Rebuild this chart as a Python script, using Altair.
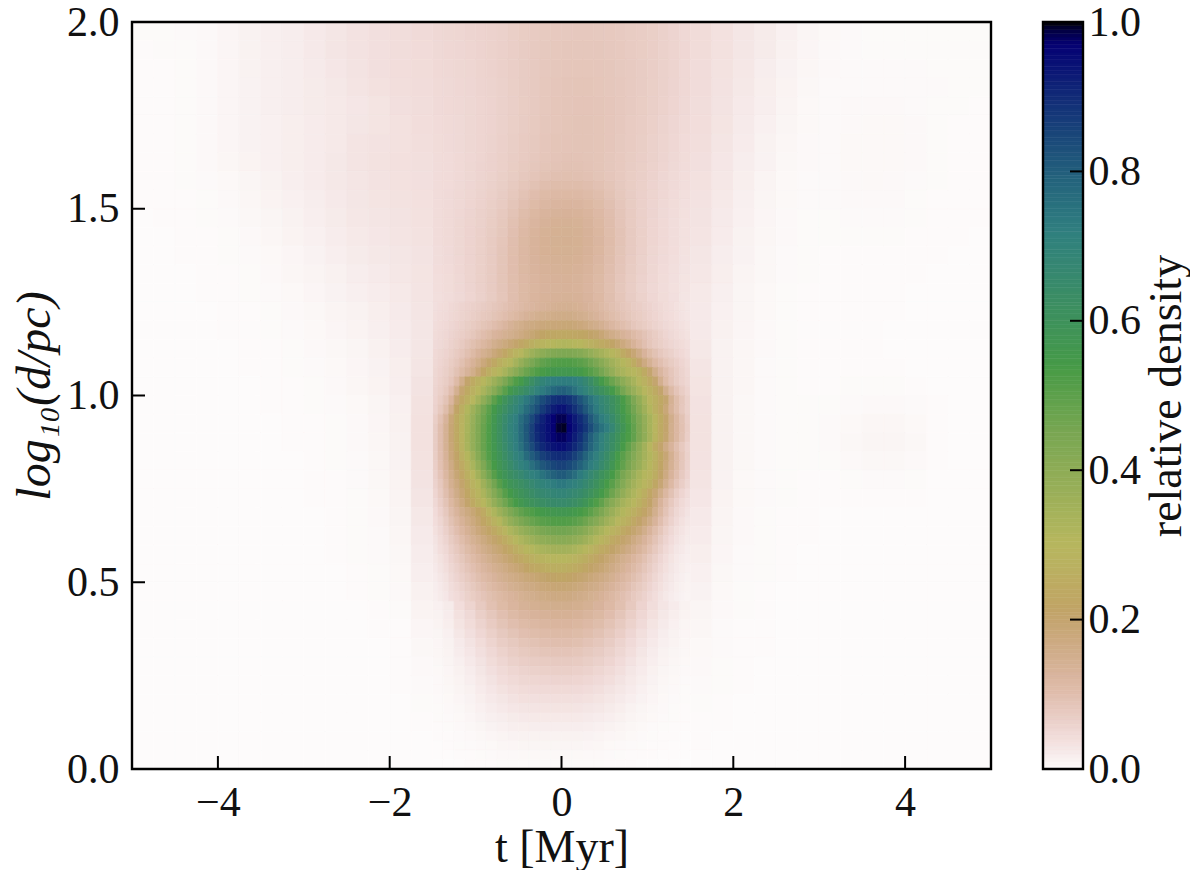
import altair as alt
import numpy as np
import pandas as pd

alt.data_transformers.disable_max_rows()

# ---- values, in thousandths of the relative density ----
# columns used by the top, upper and lower blocks: t from -1.5 to 1.5 in 24 columns
mid_t_edges = [-1.5 + 0.125 * i for i in range(25)]

# top block: log d from 2.0 to 1.65 in 7 rows
top_d_edges = [2.0 - 0.05 * i for i in range(8)]
top = [
[50,52,54,56,58,60,63,67,71,74,77,78,79,80,80,79,78,76,73,70,67,62,56,50],
[49,51,53,55,58,61,64,68,72,76,79,81,82,83,83,82,80,78,75,71,68,63,57,51],
[48,50,52,54,57,60,64,68,72,76,80,83,84,85,85,84,82,79,76,72,68,63,57,50],
[47,49,51,53,56,59,63,67,72,76,81,84,86,87,87,85,83,80,76,72,67,62,56,50],
[46,48,50,52,55,58,62,66,71,76,81,85,86,88,88,86,84,80,76,71,66,61,55,49],
[45,47,49,52,55,58,62,67,72,77,82,85,87,89,89,87,84,80,75,70,65,59,53,47],
[44,46,49,52,55,59,64,69,74,79,84,87,88,89,89,87,84,79,74,69,63,57,51,45],
]

# upper block: log d from 1.65 to 1.25 in 16 rows
upper_d_edges = [1.65 - 0.025 * i for i in range(17)]
upper = [
[43,45,48,51,55,60,65,70,75,80,85,88,90,90,89,87,83,78,73,68,62,56,50,44],
[43,45,48,52,56,60,65,71,77,82,87,90,92,92,90,87,83,78,72,67,61,55,49,43],
[43,45,48,52,56,61,67,73,80,86,92,96,97,96,94,89,84,78,71,66,60,53,47,41],
[43,45,49,53,57,63,69,77,85,93,100,104,105,104,100,94,87,79,71,65,58,52,46,40],
[43,46,50,54,59,65,72,81,91,102,110,114,115,114,109,101,91,81,72,64,57,51,45,39],
[43,46,50,55,60,67,75,86,98,110,119,124,125,124,118,108,96,84,73,64,56,50,44,38],
[43,47,51,56,62,69,78,90,105,118,127,132,133,131,125,114,100,86,74,64,56,49,43,37],
[43,47,52,57,63,71,81,95,110,124,133,138,139,137,130,118,103,88,75,64,55,48,42,36],
[43,47,52,58,64,73,83,98,114,128,137,141,142,140,133,121,105,90,76,65,55,48,42,36],
[43,47,52,58,65,74,85,100,116,130,138,142,143,141,134,122,106,90,76,65,55,48,42,36],
[42,46,52,58,65,75,86,101,117,130,138,141,142,140,133,121,105,89,76,64,54,47,41,35],
[42,46,51,58,65,75,87,102,117,129,136,139,140,138,131,119,103,88,75,63,53,46,40,34],
[41,45,51,57,65,75,87,102,116,127,133,136,137,135,128,116,100,86,73,62,52,45,39,33],
[40,44,50,57,65,75,87,101,114,124,130,133,134,132,125,113,98,84,71,60,51,44,38,32],
[40,44,50,56,64,74,86,100,113,123,129,132,133,131,124,112,97,83,70,59,50,43,37,31],
[39,43,49,55,63,73,85,100,113,125,131,134,136,134,127,115,99,85,72,61,51,44,38,30],
]

# lower block: log d from 0.45 to 0.0 in 18 rows
lower_d_edges = [0.45 - 0.025 * i for i in range(19)]
lower = [
[15,22,41,57,76,95,111,125,136,144,150,152,152,148,140,129,114,97,78,58,42,30,21,13],
[13,20,36,49,66,83,98,112,122,130,135,138,138,134,126,116,102,86,68,51,37,26,18,11],
[11,18,32,44,59,74,89,100,110,117,122,125,125,121,114,104,91,77,61,46,32,23,15,9],
[9,15,27,38,51,65,79,89,98,104,109,112,112,108,101,92,81,68,53,39,28,19,13,8],
[8,13,23,33,44,57,70,79,87,93,98,100,100,97,90,82,72,59,46,34,24,16,11,7],
[7,11,20,28,38,50,61,70,77,82,86,88,88,85,79,72,63,52,40,29,20,13,9,6],
[6,10,16,24,33,44,54,62,68,72,75,76,76,74,69,63,55,45,34,25,17,11,7,5],
[5,8,14,20,29,38,47,54,59,63,65,66,66,64,60,54,47,39,29,21,14,9,6,4],
[4,7,11,17,25,33,41,47,52,54,55,56,56,55,51,46,40,33,25,18,12,7,5,3],
[4,6,10,14,21,28,35,40,44,46,47,47,47,46,43,39,33,27,21,15,10,6,4,2],
[3,5,8,12,18,24,29,34,37,38,39,39,39,38,36,32,27,23,17,12,8,5,3,2],
[2,4,6,10,15,20,24,28,30,31,32,32,32,31,29,26,22,18,13,9,6,4,2,1],
[2,3,5,8,12,16,19,22,24,25,25,25,25,25,23,20,17,14,10,7,5,3,2,1],
[1,2,4,6,9,12,15,17,18,19,19,19,19,19,17,15,13,10,7,5,3,2,1,1],
[1,1,3,4,6,8,10,12,13,13,13,13,13,13,12,10,8,7,5,3,2,1,1,0],
[0,1,2,3,4,5,7,8,9,9,9,9,9,9,8,7,5,4,3,2,1,1,0,0],
[0,0,1,1,2,3,4,4,5,5,5,5,5,5,4,4,3,2,1,1,1,0,0,0],
[0,0,0,1,1,1,2,2,2,2,2,2,2,2,2,2,1,1,1,0,0,0,0,0],
]

# core block: t from -1.5 to 1.5 in 48 columns, log d from 1.25 to 0.45 in 32 rows
core_t_edges = [-1.5 + 0.0625 * i for i in range(49)]
core_d_edges = [1.25 - 0.025 * i for i in range(33)]
core = [
[38,41,44,48,52,56,60,64,68,72,77,82, 88,94,100,106,112,118,124,128,132,136,140,143, 144,143,141,138,133,128,121,113,105,97,90,84, 78,72,68,63,58,53,48,44,40,36,32,29],
[40,43,46,50,54,59,63,68,73,78,83,89, 95,102,110,118,126,134,140,146,151,155,158,160, 161,160,157,152,146,139,131,122,113,105,97,90, 83,77,71,66,60,55,50,45,41,37,33,30],
[42,45,48,53,58,63,69,75,81,87,94,102, 112,124,136,146,155,163,170,175,179,182,184,185, 186,186,183,178,171,162,153,143,132,120,110,101, 92,84,77,71,65,59,54,49,44,40,36,32],
[44,47,51,56,62,68,75,83,92,102,113,127, 135,143,150,160,170,180,192,203,217,226,232,234, 236,235,231,226,219,211,202,188,172,158,146,134, 124,112,100,90,80,71,62,55,49,44,39,35],
[46,49,54,60,67,76,86,97,108,120,135,150, 163,176,190,205,225,245,262,280,290,299,308,314, 318,314,306,298,285,270,258,245,232,215,195,175, 155,135,115,98,85,75,67,60,54,49,44,39],
[48,52,58,65,74,84,96,112,130,145,160,180, 200,225,255,285,305,335,365,385,403,418,428,434, 437,436,430,420,405,385,365,345,325,303,280,245, 215,190,160,130,108,92,80,70,62,54,48,42],
[50,55,62,71,82,96,115,135,155,178,205,235, 265,290,310,345,380,415,445,470,490,505,515,520, 522,520,513,503,488,468,443,415,385,355,330,310, 285,250,205,170,140,115,98,85,73,64,55,47],
[52,58,66,77,92,112,132,155,185,220,255,285, 310,340,375,410,445,475,500,520,535,548,558,563, 565,563,557,547,530,510,485,455,420,385,350,335, 315,302,278,245,200,155,122,100,84,70,59,50],
[54,61,70,84,110,155,205,245,270,298,330,365, 400,440,480,520,545,585,625,660,690,712,722,726, 728,726,718,700,670,635,590,545,510,475,440,405, 370,340,305,275,245,200,148,110,88,72,60,52],
[56,65,78,100,145,198,240,270,300,335,375,415, 460,505,555,585,615,645,675,705,730,755,778,795, 798,782,755,725,700,670,640,610,580,545,500,455, 410,375,340,305,275,245,205,152,112,88,70,57],
[58,70,90,125,185,230,265,300,345,395,445,500, 550,595,635,670,700,735,770,805,838,865,888,900, 900,885,860,825,790,750,715,680,650,615,580,535, 490,440,390,340,295,265,235,200,140,105,82,62],
[60,78,105,150,215,260,315,360,405,455,500,548, 588,625,660,690,725,765,800,835,868,900,925,942, 942,918,890,855,815,775,730,690,660,625,585,545, 505,460,410,360,315,265,230,185,135,105,80,62],
[68,92,130,185,245,280,330,375,425,470,515,565, 610,650,690,720,765,800,845,885,915,945,970,983, 983,958,930,900,865,815,770,725,695,650,605,565, 525,480,435,385,340,295,250,205,155,120,92,68],
[72,100,140,190,240,285,335,382,430,478,525,570, 614,658,700,727,772,816,861,906,925,948,970,992, 994,968,940,910,880,838,793,756,725,680,625,580, 535,490,440,390,340,295,245,205,150,120,95,70],
[72,100,140,190,240,285,340,385,430,480,525,570, 612,655,695,725,770,810,860,900,922,945,965,978, 978,955,925,893,850,800,755,715,680,640,600,560, 530,490,440,395,345,290,245,200,150,120,92,68],
[72,100,140,185,235,280,335,385,430,480,525,565, 605,645,685,718,755,800,840,880,903,925,940,950, 948,930,905,875,835,790,745,705,670,630,590,540, 495,450,400,350,300,250,205,165,130,100,78,60],
[70,98,135,178,215,265,310,360,415,465,515,555, 590,630,665,700,725,770,805,835,860,880,892,900, 898,885,860,830,790,750,715,680,640,595,545,505, 465,425,385,345,315,275,232,190,145,110,85,62],
[68,95,128,165,205,245,285,335,385,435,490,540, 575,610,645,680,705,725,760,790,815,835,850,860, 858,845,825,795,760,725,695,655,620,575,530,490, 450,410,375,335,305,265,222,180,140,108,82,60],
[64,88,120,155,190,225,265,300,350,405,460,510, 560,590,620,645,665,690,710,725,750,775,795,808, 808,790,765,730,700,670,640,605,575,540,495,450, 415,375,340,310,290,255,210,170,130,100,76,58],
[60,80,110,145,175,205,245,280,310,360,410,460, 510,555,585,605,625,645,665,685,700,712,725,738, 738,722,708,690,665,640,610,575,540,505,465,425, 385,350,320,295,270,230,190,150,115,88,68,52],
[55,74,100,130,160,190,225,260,290,330,375,420, 465,510,548,575,595,615,635,655,665,675,685,690, 690,680,665,650,630,605,575,545,510,470,430,390, 355,325,295,260,225,190,155,120,92,70,55,43],
[50,68,90,118,145,175,205,240,270,300,340,385, 425,465,505,540,565,585,600,615,630,640,648,650, 650,642,630,610,585,555,525,490,450,415,380,345, 320,300,270,240,210,170,130,100,78,60,47,38],
[45,60,80,105,128,152,172,190,215,245,285,325, 365,400,435,465,490,510,525,540,550,558,565,568, 568,562,552,540,522,500,470,440,405,370,340,315, 290,265,240,215,190,150,118,90,68,52,42,33],
[41,54,72,93,113,135,155,175,195,220,250,280, 310,350,385,415,440,460,480,495,505,512,518,520, 520,515,505,490,470,445,420,390,360,335,305,280, 260,235,210,185,160,130,100,78,60,46,36,29],
[37,49,64,82,100,120,138,158,178,195,215,240, 265,290,325,350,375,395,415,430,445,455,458,462, 462,455,445,430,410,385,360,335,310,285,265,240, 220,200,180,155,130,105,85,65,50,39,31,25],
[33,44,56,73,88,105,122,140,155,172,190,205, 225,250,275,305,325,345,365,380,392,402,408,412, 412,406,395,380,360,340,315,290,270,245,225,205, 190,170,150,130,110,90,72,56,43,34,27,22],
[30,40,50,65,78,93,108,123,138,153,168,182, 195,215,235,255,275,298,313,325,335,343,348,350, 350,345,335,320,305,285,265,245,228,210,195,180, 163,148,130,113,95,78,62,48,37,29,24,19],
[27,35,45,58,70,83,96,110,123,136,150,163, 175,188,200,218,235,252,265,278,287,294,298,300, 300,295,285,272,258,240,225,210,195,180,165,150, 138,125,110,95,80,66,53,41,32,25,20,17],
[24,31,40,52,62,74,86,98,110,122,134,145, 155,167,178,188,198,215,228,240,250,256,259,260, 260,256,248,238,225,212,200,190,177,163,150,137, 124,112,98,85,72,59,47,37,29,23,18,15],
[21,27,35,47,56,66,77,88,99,110,120,130, 140,150,158,167,175,182,188,195,202,210,216,220, 220,215,208,200,192,184,175,166,156,145,133,122, 110,99,87,75,64,52,42,33,26,20,16,13],
[19,24,31,42,50,59,69,79,89,98,108,117, 126,135,143,150,157,163,169,175,180,185,188,190, 190,187,182,176,170,163,156,148,139,130,119,109, 98,87,77,67,56,46,37,30,23,18,14,11],
[17,22,28,38,45,53,62,71,80,88,97,105, 113,121,128,135,141,147,152,157,162,166,169,170, 170,168,164,159,153,147,141,134,125,117,107,98, 88,78,69,60,50,41,33,26,20,16,12,10],
]

# side blocks: 14 columns each, log d from 2.0 to 0.0 in 40 rows
left_t_edges = [-5 + 0.25 * i for i in range(15)]
right_t_edges = [1.5 + 0.25 * i for i in range(15)]
side_d_edges = [2.0 - 0.05 * i for i in range(41)]
left_side = [
[2,2,3,4,8,13,16,19,24,29,34,38,42,46],
[1,2,2,4,8,13,16,19,24,30,34,38,42,45],
[1,1,2,4,8,13,16,19,23,28,33,38,41,44],
[1,1,2,4,8,12,16,19,22,26,31,36,40,43],
[1,1,2,4,8,12,16,19,22,25,28,32,38,42],
[1,1,2,4,8,12,15,18,21,25,29,32,36,41],
[1,1,2,4,8,12,15,18,21,25,31,34,36,40],
[1,1,2,4,7,11,15,18,21,26,31,35,37,39],
[1,1,2,3,5,9,13,17,21,26,30,34,36,38],
[1,1,1,2,4,7,11,15,19,24,29,32,35,37],
[0,1,1,2,3,6,9,13,17,22,27,30,33,36],
[0,0,1,1,2,4,7,11,15,20,25,28,31,35],
[0,0,1,1,2,3,5,8,12,17,22,26,29,33],
[0,0,0,1,1,2,4,7,10,14,19,23,27,32],
[0,0,0,1,1,2,3,5,8,12,16,20,25,31],
[0,0,0,0,1,1,2,4,6,10,13,18,23,30],
[0,0,0,0,1,1,2,3,5,8,11,16,21,29],
[0,0,0,0,0,1,1,2,4,6,9,14,20,29],
[0,0,0,0,0,1,1,2,3,5,8,12,18,30],
[0,0,0,0,0,0,1,1,2,4,7,11,17,33],
[0,0,0,0,0,0,1,1,2,3,5,9,15,35],
[0,0,0,0,0,0,0,1,1,2,4,8,14,36],
[0,0,0,0,0,0,0,1,1,2,4,7,13,36],
[0,0,0,0,0,0,0,0,1,2,3,6,12,35],
[0,0,0,0,0,0,0,0,1,1,3,6,11,33],
[0,0,0,0,0,0,0,0,1,1,2,5,10,30],
[0,0,0,0,0,0,0,0,0,1,2,4,9,26],
[0,0,0,0,0,0,0,0,0,1,2,3,7,23],
[0,0,0,0,0,0,0,0,0,1,2,3,6,20],
[0,0,0,0,0,0,0,0,0,0,1,2,5,17],
[0,0,0,0,0,0,0,0,0,0,1,2,4,14],
[0,0,0,0,0,0,0,0,0,0,0,1,2,11],
[0,0,0,0,0,0,0,0,0,0,0,1,1,8],
[0,0,0,0,0,0,0,0,0,0,0,0,1,6],
[0,0,0,0,0,0,0,0,0,0,0,0,1,4],
[0,0,0,0,0,0,0,0,0,0,0,0,1,3],
[0,0,0,0,0,0,0,0,0,0,0,0,0,2],
[0,0,0,0,0,0,0,0,0,0,0,0,0,1],
[0,0,0,0,0,0,0,0,0,0,0,0,0,0],
[0,0,0,0,0,0,0,0,0,0,0,0,0,0],
]
right_side = [
[44,36,29,22,15,9,5,3,2,2,2,2,2,2],
[44,36,29,22,14,8,4,3,2,2,2,2,2,2],
[43,35,27,19,12,7,4,3,3,3,3,2,2,2],
[43,34,26,18,11,6,3,3,3,3,3,3,2,2],
[42,33,24,17,10,5,3,4,4,4,3,2,2,1],
[41,32,23,15,9,5,3,4,5,5,4,2,1,1],
[40,30,21,13,7,4,3,5,5,5,4,2,1,1],
[38,28,19,12,6,4,3,5,5,5,4,2,1,1],
[36,27,18,10,5,3,3,4,5,4,3,2,1,1],
[34,25,16,9,5,3,3,4,4,4,2,1,1,1],
[33,23,15,8,4,2,2,3,3,3,2,1,1,1],
[31,21,13,7,4,2,2,2,2,2,1,1,1,0],
[29,19,12,6,3,2,1,1,1,1,1,1,0,0],
[27,18,10,6,3,2,1,1,1,1,1,0,0,0],
[25,16,9,5,2,1,1,1,1,1,0,0,0,0],
[24,15,9,5,2,1,1,1,1,1,0,0,0,0],
[24,14,8,4,2,1,1,1,1,0,0,0,0,0],
[26,13,7,4,2,1,1,1,1,0,0,0,0,0],
[30,13,7,3,2,1,1,1,1,1,0,0,0,0],
[32,13,7,3,2,1,1,2,2,2,1,0,0,0],
[34,13,6,3,2,2,2,3,4,4,3,1,0,0],
[35,13,6,3,2,2,3,5,7,7,5,1,0,0],
[35,13,6,3,2,2,3,6,9,9,6,1,0,0],
[34,13,6,3,2,2,2,4,6,6,4,1,0,0],
[31,12,5,3,2,1,1,2,3,3,2,0,0,0],
[28,11,5,3,2,1,1,1,1,1,1,0,0,0],
[24,10,4,2,1,1,0,0,0,0,0,0,0,0],
[21,9,4,2,1,1,0,0,0,0,0,0,0,0],
[18,8,3,2,1,0,0,0,0,0,0,0,0,0],
[15,6,3,2,1,0,0,0,0,0,0,0,0,0],
[12,5,2,1,0,0,0,0,0,0,0,0,0,0],
[9,4,2,1,0,0,0,0,0,0,0,0,0,0],
[7,3,1,1,0,0,0,0,0,0,0,0,0,0],
[5,3,1,1,0,0,0,0,0,0,0,0,0,0],
[4,2,1,0,0,0,0,0,0,0,0,0,0,0],
[3,2,1,0,0,0,0,0,0,0,0,0,0,0],
[2,1,0,0,0,0,0,0,0,0,0,0,0,0],
[1,1,0,0,0,0,0,0,0,0,0,0,0,0],
[1,0,0,0,0,0,0,0,0,0,0,0,0,0],
[0,0,0,0,0,0,0,0,0,0,0,0,0,0],
]

t_ticks = [-4, -2, 0, 2, 4]
d_ticks = [0.0, 0.5, 1.0, 1.5, 2.0]
cbar_ticks = [0.0, 0.2, 0.4, 0.6, 0.8, 1.0]
cbar_inner_ticks = [0.2, 0.4, 0.6, 0.8]

# ---- gist_earth colour table, reversed for the scale ----
RED = [(0, 0), (.2824, .1882), (.4588, .2714), (.549, .4719), (.698, .7176), (.7882, .7553), (1, .9922)]
GREEN = [(0, 0), (.0275, 0), (.1098, .1893), (.1647, .3035), (.2078, .3841), (.2824, .502), (.5216, .6397),
         (.698, .7171), (.7882, .6392), (.8157, .6549), (.8667, .6991), (.898, .743), (.9412, .8275),
         (.9647, .8816), (1, .9843)]
BLUE = [(0, 0), (.0039, .1684), (.0078, .2212), (.0275, .4329), (.0314, .4549), (.2824, .5004), (.4667, .2748),
        (.5451, .3205), (.7843, .3961), (.8941, .6651), (1, .9843)]


def chan(table, x):
    xs, ys = zip(*table)
    return np.interp(x, xs, ys)


color_stops = [i / 100 for i in range(101)]
color_range = []
for v in color_stops:
    x = 1 - v
    color_range.append("#%02x%02x%02x" % tuple(int(round(255 * chan(c, x))) for c in (RED, GREEN, BLUE)))
color_scale = alt.Scale(domain=color_stops, range=color_range, interpolate="rgb", clamp=True)


def cells(grid, t_edges, d_edges):
    rows = []
    for r, row in enumerate(grid):
        for c, val in enumerate(row):
            rows.append({"t0": t_edges[c], "t1": t_edges[c + 1], "d0": d_edges[r + 1], "d1": d_edges[r],
                         "v": val / 1000})
    return rows


heat = pd.DataFrame(cells(top, mid_t_edges, top_d_edges)
                    + cells(upper, mid_t_edges, upper_d_edges)
                    + cells(lower, mid_t_edges, lower_d_edges)
                    + cells(core, core_t_edges, core_d_edges)
                    + cells(left_side, left_t_edges, side_d_edges)
                    + cells(right_side, right_t_edges, side_d_edges))

FONT = "Liberation Serif"
W, H = 859, 747
CW = 40
TICK = 13

x_scale = alt.Scale(domain=[-5, 5], nice=False)
y_scale = alt.Scale(domain=[0, 2], nice=False)

rects = alt.Chart(heat).mark_rect(strokeWidth=0.6).encode(
    x=alt.X("t0:Q", scale=x_scale,
            axis=alt.Axis(values=t_ticks, format="d", title="t [Myr]", grid=False, domain=False, tickSize=0,
                          labelPadding=13, titlePadding=2)),
    x2="t1:Q",
    y=alt.Y("d0:Q", scale=y_scale,
            axis=alt.Axis(values=d_ticks, format=".1f", title="log₁₀(d/pc)", titleFontStyle="italic", titleFontSize=48,
                          grid=False, domain=False, tickSize=0, labelPadding=13, titlePadding=7)),
    y2="d1:Q",
    fill=alt.Fill("v:Q", scale=color_scale, legend=None),
    stroke=alt.Stroke("v:Q", scale=color_scale, legend=None),
)
x_tick_marks = alt.Chart(pd.DataFrame({"t": t_ticks})).mark_rule(color="black", strokeWidth=2).encode(
    x=alt.X("t:Q", scale=x_scale), y=alt.value(H), y2=alt.value(H - TICK))
y_tick_marks = alt.Chart(pd.DataFrame({"d": d_ticks[1:-1]})).mark_rule(color="black", strokeWidth=2).encode(
    y=alt.Y("d:Q", scale=y_scale), x=alt.value(0), x2=alt.value(TICK))
frame = alt.Chart(pd.DataFrame({"a": [0]})).mark_rect(fill=None, stroke="black", strokeWidth=2.4).encode(
    x=alt.value(0), x2=alt.value(W), y=alt.value(0), y2=alt.value(H))
main = alt.layer(rects, x_tick_marks, y_tick_marks, frame).properties(width=W, height=H)

cbar_levels = [i / 200 for i in range(200)]
cbar_df = pd.DataFrame({"lo": cbar_levels, "hi": [v + 0.005 for v in cbar_levels], "v": [v + 0.0025 for v in cbar_levels]})
cbar_y = alt.Scale(domain=[0, 1], nice=False)
cbar_rects = alt.Chart(cbar_df).mark_rect(strokeWidth=0.6).encode(
    x=alt.value(0), x2=alt.value(CW),
    y=alt.Y("lo:Q", scale=cbar_y,
            axis=alt.Axis(orient="right", values=cbar_ticks, format=".1f", title="relative density", titleAngle=270,
                          titleFontSize=46, grid=False, domain=False, tickSize=0, labelPadding=5, titlePadding=50)),
    y2="hi:Q",
    fill=alt.Fill("v:Q", scale=color_scale, legend=None),
    stroke=alt.Stroke("v:Q", scale=color_scale, legend=None),
)
cbar_tick_marks = alt.Chart(pd.DataFrame({"v": cbar_inner_ticks})).mark_rule(color="black", strokeWidth=2).encode(
    y=alt.Y("v:Q", scale=cbar_y), x=alt.value(CW), x2=alt.value(CW - TICK))
cbar_frame = alt.Chart(pd.DataFrame({"a": [0]})).mark_rect(fill=None, stroke="black", strokeWidth=2.4).encode(
    x=alt.value(0), x2=alt.value(CW), y=alt.value(0), y2=alt.value(H))
cbar = alt.layer(cbar_rects, cbar_tick_marks, cbar_frame).properties(width=CW, height=H)

chart = alt.hconcat(main, cbar, spacing=48).resolve_scale(fill="independent", stroke="independent").properties(
    padding={"left": 3, "top": -7, "right": 0, "bottom": 0}
).configure_view(stroke=None).configure_axis(
    labelFont=FONT, titleFont=FONT, labelFontSize=42, titleFontSize=46, labelColor="#111", titleColor="#111",
    titleFontWeight="normal",
)
chart.save("out.html", embed_options={"renderer": "svg", "actions": False})
